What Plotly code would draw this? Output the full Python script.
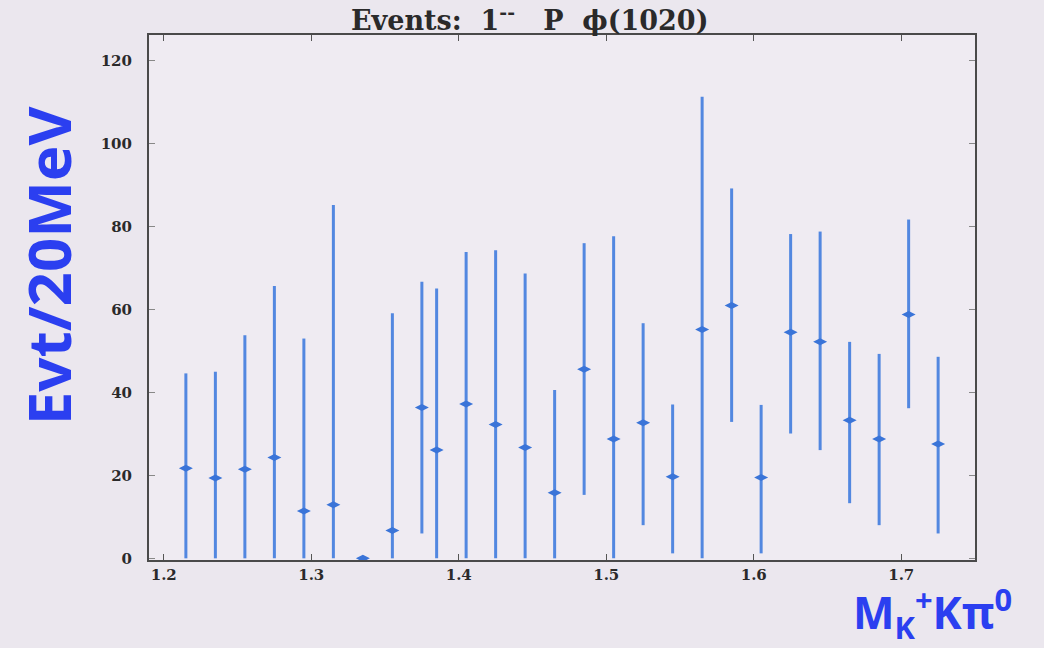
import plotly.graph_objects as go

# K+K-pi0 invariant mass bins (GeV) and fitted event yields with asymmetric errors
mass = [1.215, 1.235, 1.255, 1.275, 1.295, 1.315, 1.335, 1.355, 1.375, 1.385,
        1.405, 1.425, 1.445, 1.465, 1.485, 1.505, 1.525, 1.545, 1.565, 1.585,
        1.605, 1.625, 1.645, 1.665, 1.685, 1.705, 1.725]
events = [21.7, 19.4, 21.5, 24.3, 11.4, 12.9, 0.0, 6.7, 36.4, 26.1,
          37.2, 32.3, 26.7, 15.8, 45.6, 28.8, 32.7, 19.7, 55.2, 61.0,
          19.5, 54.5, 52.2, 33.3, 28.8, 58.8, 27.6]
upper = [44.6, 45.0, 53.8, 65.7, 53.0, 85.2, 0.0, 59.1, 66.7, 65.1,
         73.9, 74.3, 68.7, 40.6, 76.0, 77.7, 56.7, 37.1, 111.3, 89.2,
         37.0, 78.2, 78.8, 52.2, 49.3, 81.7, 48.6]
lower = [0.0, 0.0, 0.0, 0.0, 0.0, 0.0, 0.0, 0.0, 6.0, 0.0,
         0.0, 0.0, 0.0, 0.0, 15.3, 0.0, 8.0, 1.2, 0.0, 32.9,
         1.2, 30.1, 26.1, 13.3, 8.0, 36.2, 6.0]

x_ticks = [1.2, 1.3, 1.4, 1.5, 1.6, 1.7]
y_ticks = [0, 20, 40, 60, 80, 100, 120]

err_plus = [u - v for u, v in zip(upper, events)]
err_minus = [v - l for v, l in zip(events, lower)]

fig = go.Figure()
fig.add_trace(go.Scatter(
    x=mass, y=events, mode="markers",
    marker=dict(symbol="diamond-wide", size=10, color="#3a74d8"),
    error_y=dict(type="data", symmetric=False, array=err_plus, arrayminus=err_minus,
                 color="#5287e0", thickness=3, width=0),
    showlegend=False,
))

serif = "DejaVu Serif, Liberation Serif, serif"
axis_font = dict(family=serif, size=15, color="#2a2a2a", weight="bold")

fig.update_layout(
    width=1044, height=648,
    margin=dict(l=149, r=69, t=35, b=88),
    paper_bgcolor="#ebe7ee",
    plot_bgcolor="#efebf2",
    xaxis=dict(range=[1.190, 1.750], tickvals=x_ticks, ticktext=[str(v) for v in x_ticks],
               ticks="inside", ticklen=6, tickcolor="#555", showgrid=False, zeroline=False,
               showline=True, linecolor="#4a4a4a", linewidth=2, mirror="allticks",
               tickfont=axis_font, ticklabelstandoff=0),
    yaxis=dict(range=[-0.4, 126.2], tickvals=y_ticks, ticktext=[str(v) for v in y_ticks],
               ticks="inside", ticklen=6, tickcolor="#888", showgrid=False, zeroline=False,
               showline=True, linecolor="#4a4a4a", linewidth=2, mirror="allticks",
               tickfont=axis_font, ticklabelstandoff=12),
    annotations=[
        dict(text="Events:  1<sup>--</sup>   P  \u03d5(1020)", xref="paper", yref="paper",
             x=0.461, y=1.0, yshift=17, xanchor="center", yanchor="middle", showarrow=False,
             font=dict(family=serif, size=27, color="#2a2a2a", weight="bold")),
        dict(text="Evt/20MeV", xref="paper", yref="paper", x=-0.122, y=0.56,
             xanchor="center", yanchor="middle", textangle=-90, showarrow=False,
             font=dict(family="Noto Sans, sans-serif", size=60, color="#2b3ff0",
                       weight="bold")),
        dict(text="M<sub>K</sub><sup>+</sup>K\u03c0<sup>0</sup>", xref="paper", yref="paper",
             x=0.948, y=-0.1, xanchor="center", yanchor="middle", showarrow=False,
             font=dict(family="Noto Sans, sans-serif", size=44, color="#2b3ff0",
                       weight="bold")),
    ],
)

fig.write_html("out.html")
